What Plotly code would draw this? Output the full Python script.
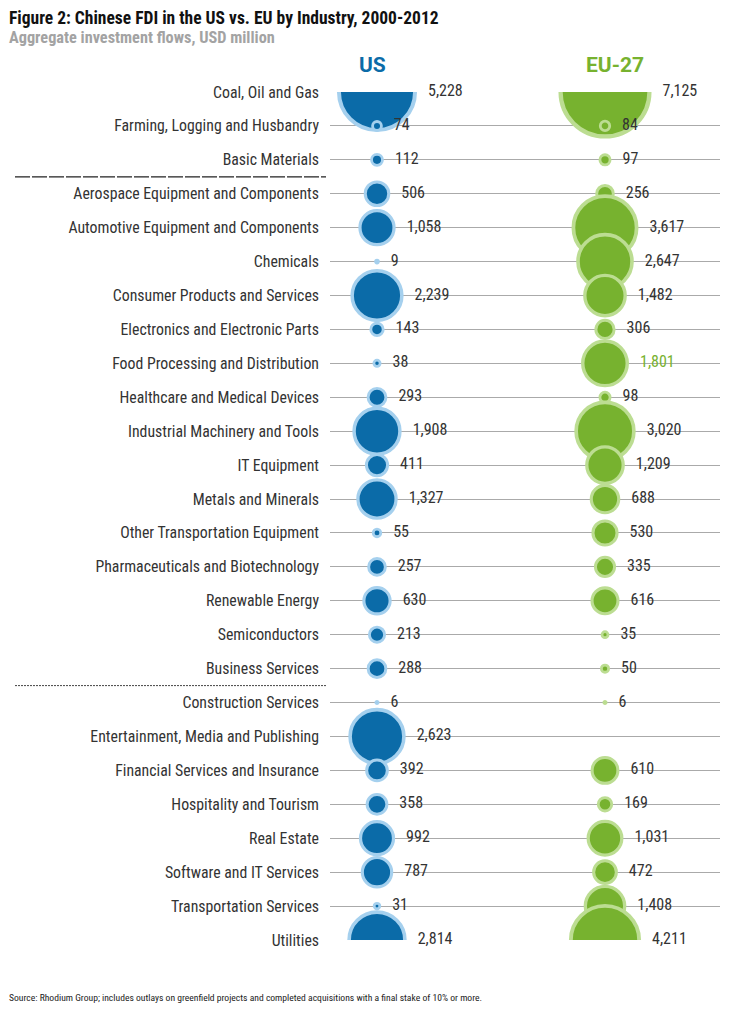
import plotly.graph_objects as go
import math

categories = [
    "Coal, Oil and Gas", "Farming, Logging and Husbandry", "Basic Materials",
    "Aerospace Equipment and Components", "Automotive Equipment and Components",
    "Chemicals", "Consumer Products and Services", "Electronics and Electronic Parts",
    "Food Processing and Distribution", "Healthcare and Medical Devices",
    "Industrial Machinery and Tools", "IT Equipment", "Metals and Minerals",
    "Other Transportation Equipment", "Pharmaceuticals and Biotechnology",
    "Renewable Energy", "Semiconductors", "Business Services",
    "Construction Services", "Entertainment, Media and Publishing",
    "Financial Services and Insurance", "Hospitality and Tourism", "Real Estate",
    "Software and IT Services", "Transportation Services", "Utilities",
]
us_values = [5228, 74, 112, 506, 1058, 9, 2239, 143, 38, 293, 1908, 411, 1327, 55,
             257, 630, 213, 288, 6, 2623, 392, 358, 992, 787, 31, 2814]
eu_values = [7125, 84, 97, 256, 3617, 2647, 1482, 306, 1801, 98, 3020, 1209, 688, 530,
             335, 616, 35, 50, 6, None, 610, 169, 1031, 472, 1408, 4211]
columns = ["US", "EU-27"]

# page has an 8px body margin; figure coordinates = page coordinates - 8
OFF = 8
W, H = 720, 1004
PL, PR, PT, PB = 330 - OFF, 720 - OFF, 92 - OFF, 940 - OFF
X_US_PX, X_EU_PX = 377 - OFF, 605 - OFF
PX_PER_UNIT = X_EU_PX - X_US_PX
xr = [-(X_US_PX - PL) / PX_PER_UNIT, 1 + (PR - X_EU_PX) / PX_PER_UNIT]

FONT = "Liberation Sans Narrow, Roboto Condensed, DejaVu Sans Condensed, Arial Narrow, sans-serif"

def px_to_paper_x(px):
    return (px - OFF - PL) / (PR - PL)

def px_to_paper_y(py):
    return (PB - (py - OFF)) / (PB - PT)

def radius(v):
    return 1.2 + 0.537 * math.sqrt(v)

styles = {
    "US": dict(dark="#0b6ba8", light="#a5d0ee", col=0),
    "EU-27": dict(dark="#77b22f", light="#bcdd92", col=1),
}

fig = go.Figure()
n = len(categories)
for name, vals in zip(columns, [us_values, eu_values]):
    st = styles[name]
    ys, xs, sizes, lws, txt_x, txt, txt_col = [], [], [], [], [], [], []
    for i, v in enumerate(vals):
        if v is None:
            continue
        r = radius(v)
        lw = 2.6 + 0.035 * r
        ys.append(i)
        xs.append(st["col"])
        sizes.append(max(2 * r - lw, 0.5))
        lws.append(lw)
        txt_x.append(st["col"] + (r + 11) / PX_PER_UNIT)
        txt.append(f"{v:,}")
        txt_col.append(st["dark"] if (name == "EU-27" and v == 1801) else "#333333")
    fig.add_trace(go.Scatter(
        x=xs, y=ys, mode="markers", name=name, showlegend=False,
        marker=dict(size=sizes, sizemode="diameter", color=st["dark"], opacity=1,
                    line=dict(color=st["light"], width=lws)),
        cliponaxis=True, hoverinfo="skip",
    ))
    fig.add_trace(go.Scatter(
        x=txt_x, y=ys, mode="text", text=txt, textposition="middle right",
        textfont=dict(family=FONT, size=16, color=txt_col),
        cliponaxis=False, showlegend=False, hoverinfo="skip",
    ))

annotations = []
for name, xpx in [("US", 372), ("EU-27", 615)]:
    annotations.append(dict(
        x=px_to_paper_x(xpx), y=px_to_paper_y(65), xref="paper", yref="paper",
        text=f"<b>{name}</b>", showarrow=False, xanchor="center", yanchor="middle",
        font=dict(family="Roboto, Liberation Sans, sans-serif", size=21, color=styles[name]["dark"]),
    ))
annotations.append(dict(
    x=px_to_paper_x(7), y=px_to_paper_y(17.5), xref="paper", yref="paper",
    text="<b>Figure 2: Chinese FDI in the US vs. EU by Industry, 2000-2012</b>",
    showarrow=False, xanchor="left", yanchor="middle",
    font=dict(family=FONT, size=17.5, color="#111111"),
))
annotations.append(dict(
    x=px_to_paper_x(7), y=px_to_paper_y(37.5), xref="paper", yref="paper",
    text="<b>Aggregate investment flows, USD million</b>",
    showarrow=False, xanchor="left", yanchor="middle",
    font=dict(family=FONT, size=16.3, color="#a3a3a3"),
))
annotations.append(dict(
    x=px_to_paper_x(7), y=px_to_paper_y(997), xref="paper", yref="paper",
    text="Source: Rhodium Group; includes outlays on greenfield projects and completed acquisitions with a final stake of 10% or more.",
    showarrow=False, xanchor="left", yanchor="middle",
    font=dict(family=FONT, size=9.6, color="#222222"),
))

shapes = [
    dict(type="line", xref="paper", yref="y", x0=px_to_paper_x(15), x1=px_to_paper_x(326),
         y0=2.5, y1=2.5, line=dict(color="#222222", width=1.2, dash="15px,2px")),
    dict(type="line", xref="paper", yref="y", x0=px_to_paper_x(15), x1=px_to_paper_x(326),
         y0=17.5, y1=17.5, line=dict(color="#444444", width=1, dash="2px,1px")),
]

fig.update_layout(
    width=W, height=H,
    margin=dict(l=PL, r=W - PR, t=PT, b=H - PB, pad=0),
    paper_bgcolor="white", plot_bgcolor="white",
    xaxis=dict(range=xr, visible=False, showgrid=False, zeroline=False, fixedrange=True),
    yaxis=dict(range=[n - 1, 0], tickmode="array", tickvals=list(range(n)), ticktext=categories,
               showgrid=True, gridcolor="#aaaaaa", gridwidth=1, zeroline=False, showline=False,
               ticks="", ticklabelstandoff=10,
               tickfont=dict(family=FONT, size=15.8, color="#333333")),
    annotations=annotations, shapes=shapes,
    font=dict(family=FONT),
)

fig.write_html("out.html")
